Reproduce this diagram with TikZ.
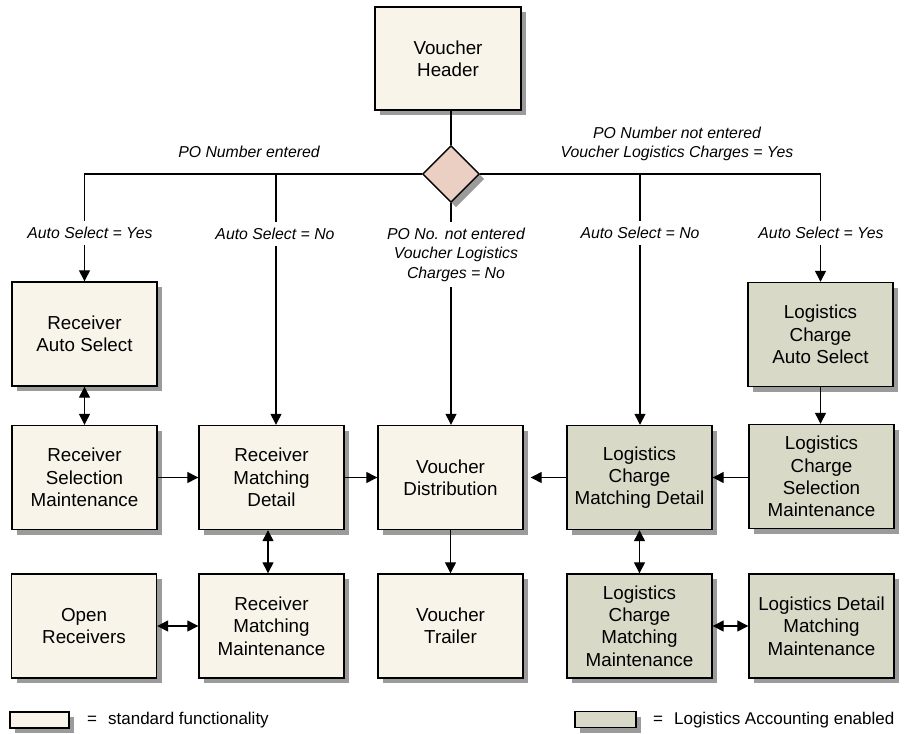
\documentclass[tikz,border=0pt]{standalone}
\usepackage{fontspec}
\setmainfont{Liberation Sans}
\usetikzlibrary{arrows.meta,shapes.geometric,shadows}
\definecolor{stdfill}{HTML}{F8F4E9}
\definecolor{logfill}{HTML}{D8D9C7}
\definecolor{decfill}{HTML}{ECCFC3}
\definecolor{shadowgray}{HTML}{9B9B9B}
\begin{document}
\begin{tikzpicture}[x=1pt,y=-1pt,
  boxshadow/.style={drop shadow={shadow xshift=5pt,shadow yshift=-5pt,fill=shadowgray,opacity=1}},
  stdbox/.style={draw=black,line width=1.4pt,fill=stdfill,minimum width=145pt,minimum height=104pt,
    inner sep=0pt,align=center,font=\fontsize{18.8}{22.3}\selectfont,boxshadow},
  logbox/.style={stdbox,fill=logfill},
  decision/.style={diamond,draw=black,line width=1.4pt,fill=decfill,minimum width=57pt,minimum height=57pt,
    aspect=1,inner sep=0pt,boxshadow},
  link/.style={line width=1.3pt},
  arr/.style={link,-{Triangle[length=11pt,width=11pt]}},
  dblarr/.style={link,{Triangle[length=11pt,width=11pt]}-{Triangle[length=11pt,width=11pt]}},
  cond/.style={font=\fontsize{15.8}{19.5}\selectfont\itshape,align=center,fill=white,inner xsep=2pt,inner ysep=6pt},
  branchtxt/.style={font=\fontsize{15.8}{18.5}\selectfont\itshape,align=center},
  legbox/.style={draw=black,line width=1.3pt,minimum width=59pt,minimum height=16pt,inner sep=0pt,
    drop shadow={shadow xshift=5pt,shadow yshift=-5pt,fill=shadowgray,opacity=1}},
  legtxt/.style={anchor=west,font=\fontsize{17}{20}\selectfont,inner sep=0pt}]
\useasboundingbox (0,0) rectangle (904,733);

% header and decision
\node[stdbox,minimum width=146pt,minimum height=103pt] (hdr) at (448,58.5) {Voucher\\Header};
\node[decision] (dia) at (451,174) {};

% first row
\node[stdbox] (ras) at (84.5,334) {Receiver\\Auto Select};
\node[logbox] (lcas) at (820.5,334.5) {Logistics\\Charge\\Auto Select};

% second row
\node[stdbox] (rsm) at (84.5,477.5) {Receiver\\Selection\\Maintenance};
\node[stdbox] (rmd) at (271.5,477.5) {Receiver\\Matching\\Detail};
\node[stdbox] (vd) at (450.5,477.5) {Voucher\\Distribution};
\node[logbox] (lcmd) at (639.5,477.5) {Logistics\\Charge\\Matching Detail};
\node[logbox] (lcsm) at (821.5,476.5) {Logistics\\Charge\\Selection\\Maintenance};

% third row
\node[stdbox] (or) at (84,626) {Open\\Receivers};
\node[stdbox] (rmm) at (271.5,626) {Receiver\\Matching\\Maintenance};
\node[stdbox] (vt) at (450.5,626) {Voucher\\Trailer};
\node[logbox] (lcmm) at (639.5,626) {Logistics\\Charge\\Matching\\Maintenance};
\node[logbox] (ldmm) at (821.5,626) {Logistics Detail\\Matching\\Maintenance};

% branch points on the decision line
\coordinate (brL) at (276,174);
\coordinate (brR) at (640,174);

% connectors
\draw[link] (dia.north |- hdr.south) -- (dia.north);
\draw[arr] (dia.west) -| (ras.north);
\draw[arr] (dia.east) -| (lcas.north);
\draw[arr] (brL) -- (brL |- rmd.north);
\draw[arr] (brR) -- (brR |- lcmd.north);
\draw[arr] (dia.south) -- (dia.south |- vd.north);

\draw[dblarr] (ras.south) -- (rsm.north);
\draw[arr] (rsm.east) -- (rmd.west);
\draw[arr] (rmd.east) -- (vd.west);
\draw[arr] (lcmd.west) -- ([xshift=7pt]vd.east);
\draw[arr] (lcsm.west |- lcmd.east) -- (lcmd.east);
\draw[arr] (lcas.south) -- (lcas.south |- lcsm.north);
\draw[dblarr] ([xshift=-3.5pt]rmd.south) -- ([xshift=-3.5pt]rmm.north);
\draw[arr] (vd.south) -- (vt.north);
\draw[dblarr] (lcmd.south) -- (lcmm.north);
\draw[dblarr] (or.east) -- (rmm.west);
\draw[dblarr] (lcmm.east) -- (ldmm.west);

% branch conditions
\node[branchtxt] (tL) at (249,152) {PO Number entered};
\node[branchtxt] (tR) at (677,144) {PO Number not entered\\Voucher Logistics Charges = Yes};
\node[cond] (c1) at (90,233) {Auto Select = Yes};
\node[cond] (c2) at (275,234) {Auto Select = No};
\node[cond] (c3) at (456,254.5) {PO No. not entered\\Voucher Logistics\\Charges = No};
\node[cond] (c4) at (640,233) {Auto Select = No};
\node[cond] (c5) at (821,233) {Auto Select = Yes};

% legend
\node[legbox,fill=stdfill] (legS) at (39.5,720) {};
\node[legtxt] (legSt) at (87,720) {=\hspace{11pt}standard functionality};
\node[legbox,fill=logfill,minimum width=61pt] (legL) at (605.5,719.5) {};
\node[legtxt] (legLt) at (653,720) {=\hspace{11pt}Logistics Accounting enabled};
\end{tikzpicture}
\end{document}
